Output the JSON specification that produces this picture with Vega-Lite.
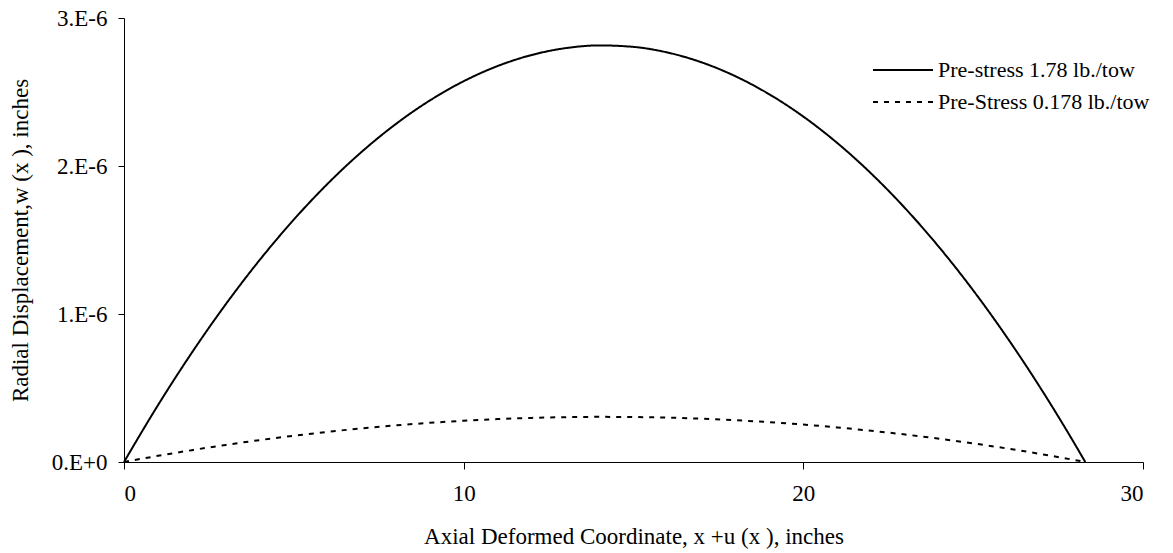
{
  "$schema": "https://vega.github.io/schema/vega-lite/v6.json",
  "width": 1019,
  "height": 444,
  "autosize": {"type": "none"},
  "padding": {"left": 124, "top": 18, "right": 30, "bottom": 91},
  "background": "white",
  "config": {
    "view": {"stroke": null},
    "font": "Liberation Serif",
    "axis": {
      "grid": false,
      "domainColor": "black",
      "domainWidth": 1,
      "tickColor": "black",
      "tickWidth": 1,
      "labelColor": "black",
      "titleColor": "black",
      "labelFont": "Liberation Serif",
      "titleFont": "Liberation Serif",
      "labelFontSize": 23,
      "titleFontSize": 23,
      "titleFontWeight": "normal"
    }
  },
  "data": {
    "values": [
      {"x": 0, "w": 0, "s": "Pre-stress 1.78 lb./tow"},
      {"x": 1, "w": 3.838e-7, "s": "Pre-stress 1.78 lb./tow"},
      {"x": 2, "w": 7.395e-7, "s": "Pre-stress 1.78 lb./tow"},
      {"x": 3, "w": 1.0671e-6, "s": "Pre-stress 1.78 lb./tow"},
      {"x": 4, "w": 1.3666e-6, "s": "Pre-stress 1.78 lb./tow"},
      {"x": 5, "w": 1.6379e-6, "s": "Pre-stress 1.78 lb./tow"},
      {"x": 6, "w": 1.8812e-6, "s": "Pre-stress 1.78 lb./tow"},
      {"x": 7, "w": 2.0962e-6, "s": "Pre-stress 1.78 lb./tow"},
      {"x": 8, "w": 2.2832e-6, "s": "Pre-stress 1.78 lb./tow"},
      {"x": 9, "w": 2.4421e-6, "s": "Pre-stress 1.78 lb./tow"},
      {"x": 10, "w": 2.5729e-6, "s": "Pre-stress 1.78 lb./tow"},
      {"x": 11, "w": 2.6755e-6, "s": "Pre-stress 1.78 lb./tow"},
      {"x": 12, "w": 2.75e-6, "s": "Pre-stress 1.78 lb./tow"},
      {"x": 13, "w": 2.7964e-6, "s": "Pre-stress 1.78 lb./tow"},
      {"x": 14, "w": 2.8147e-6, "s": "Pre-stress 1.78 lb./tow"},
      {"x": 15, "w": 2.8048e-6, "s": "Pre-stress 1.78 lb./tow"},
      {"x": 16, "w": 2.7669e-6, "s": "Pre-stress 1.78 lb./tow"},
      {"x": 17, "w": 2.7008e-6, "s": "Pre-stress 1.78 lb./tow"},
      {"x": 18, "w": 2.6066e-6, "s": "Pre-stress 1.78 lb./tow"},
      {"x": 19, "w": 2.4843e-6, "s": "Pre-stress 1.78 lb./tow"},
      {"x": 20, "w": 2.3339e-6, "s": "Pre-stress 1.78 lb./tow"},
      {"x": 21, "w": 2.1553e-6, "s": "Pre-stress 1.78 lb./tow"},
      {"x": 22, "w": 1.9486e-6, "s": "Pre-stress 1.78 lb./tow"},
      {"x": 23, "w": 1.7138e-6, "s": "Pre-stress 1.78 lb./tow"},
      {"x": 24, "w": 1.4509e-6, "s": "Pre-stress 1.78 lb./tow"},
      {"x": 25, "w": 1.1599e-6, "s": "Pre-stress 1.78 lb./tow"},
      {"x": 26, "w": 8.407e-7, "s": "Pre-stress 1.78 lb./tow"},
      {"x": 27, "w": 4.935e-7, "s": "Pre-stress 1.78 lb./tow"},
      {"x": 28, "w": 1.181e-7, "s": "Pre-stress 1.78 lb./tow"},
      {"x": 28.3, "w": 0, "s": "Pre-stress 1.78 lb./tow"},
      {"x": 0, "w": 0, "s": "Pre-Stress 0.178 lb./tow"},
      {"x": 1, "w": 4.16e-8, "s": "Pre-Stress 0.178 lb./tow"},
      {"x": 2, "w": 8.01e-8, "s": "Pre-Stress 0.178 lb./tow"},
      {"x": 3, "w": 1.156e-7, "s": "Pre-Stress 0.178 lb./tow"},
      {"x": 4, "w": 1.481e-7, "s": "Pre-Stress 0.178 lb./tow"},
      {"x": 5, "w": 1.775e-7, "s": "Pre-Stress 0.178 lb./tow"},
      {"x": 6, "w": 2.038e-7, "s": "Pre-Stress 0.178 lb./tow"},
      {"x": 7, "w": 2.271e-7, "s": "Pre-Stress 0.178 lb./tow"},
      {"x": 8, "w": 2.474e-7, "s": "Pre-Stress 0.178 lb./tow"},
      {"x": 9, "w": 2.646e-7, "s": "Pre-Stress 0.178 lb./tow"},
      {"x": 10, "w": 2.788e-7, "s": "Pre-Stress 0.178 lb./tow"},
      {"x": 11, "w": 2.899e-7, "s": "Pre-Stress 0.178 lb./tow"},
      {"x": 12, "w": 2.98e-7, "s": "Pre-Stress 0.178 lb./tow"},
      {"x": 13, "w": 3.03e-7, "s": "Pre-Stress 0.178 lb./tow"},
      {"x": 14, "w": 3.05e-7, "s": "Pre-Stress 0.178 lb./tow"},
      {"x": 15, "w": 3.039e-7, "s": "Pre-Stress 0.178 lb./tow"},
      {"x": 16, "w": 2.998e-7, "s": "Pre-Stress 0.178 lb./tow"},
      {"x": 17, "w": 2.926e-7, "s": "Pre-Stress 0.178 lb./tow"},
      {"x": 18, "w": 2.824e-7, "s": "Pre-Stress 0.178 lb./tow"},
      {"x": 19, "w": 2.692e-7, "s": "Pre-Stress 0.178 lb./tow"},
      {"x": 20, "w": 2.529e-7, "s": "Pre-Stress 0.178 lb./tow"},
      {"x": 21, "w": 2.335e-7, "s": "Pre-Stress 0.178 lb./tow"},
      {"x": 22, "w": 2.111e-7, "s": "Pre-Stress 0.178 lb./tow"},
      {"x": 23, "w": 1.857e-7, "s": "Pre-Stress 0.178 lb./tow"},
      {"x": 24, "w": 1.572e-7, "s": "Pre-Stress 0.178 lb./tow"},
      {"x": 25, "w": 1.257e-7, "s": "Pre-Stress 0.178 lb./tow"},
      {"x": 26, "w": 9.11e-8, "s": "Pre-Stress 0.178 lb./tow"},
      {"x": 27, "w": 5.35e-8, "s": "Pre-Stress 0.178 lb./tow"},
      {"x": 28, "w": 1.28e-8, "s": "Pre-Stress 0.178 lb./tow"},
      {"x": 28.3, "w": 0, "s": "Pre-Stress 0.178 lb./tow"}
    ]
  },
  "mark": {"type": "line", "color": "black", "strokeWidth": 2, "interpolate": "monotone"},
  "encoding": {
    "x": {
      "field": "x",
      "type": "quantitative",
      "scale": {"domain": [0, 30], "nice": false, "zero": false},
      "axis": {
        "values": [0, 10, 20, 30],
        "tickSize": 7,
        "labelPadding": 13,
        "title": "Axial Deformed Coordinate, x +u (x ), inches",
        "titlePadding": 20
      }
    },
    "y": {
      "field": "w",
      "type": "quantitative",
      "scale": {"domain": [0, 3e-6], "nice": false},
      "axis": {
        "values": [0, 1e-6, 2e-6, 3e-6],
        "labelExpr": "datum.value == 0 ? '0.E+0' : format(datum.value * 1e6, '.0f') + '.E-6'",
        "tickSize": 6,
        "labelPadding": 11,
        "title": "Radial Displacement,w (x ), inches",
        "titlePadding": 19
      }
    },
    "strokeDash": {
      "field": "s",
      "type": "nominal",
      "scale": {
        "domain": ["Pre-stress 1.78 lb./tow", "Pre-Stress 0.178 lb./tow"],
        "range": [[1, 0], [5, 6]]
      },
      "legend": {
        "orient": "none",
        "legendX": 748,
        "legendY": 37,
        "title": null,
        "symbolType": "stroke",
        "symbolSize": 3600,
        "symbolStrokeWidth": 2,
        "symbolStrokeColor": "black",
        "clipHeight": 30,
        "labelFont": "Liberation Serif",
        "labelFontSize": 22,
        "labelColor": "black",
        "labelOffset": 4,
        "labelLimit": 0,
        "rowPadding": 2
      }
    }
  }
}
